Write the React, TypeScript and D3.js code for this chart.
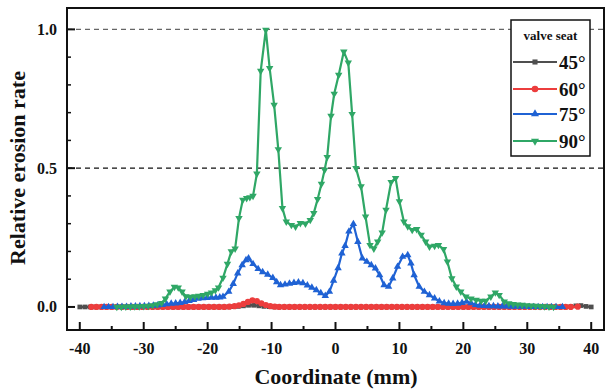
import React from "react";
import * as d3 from "d3";

// ---------- data ----------
const xTicks = [-40, -30, -20, -10, 0, 10, 20, 30, 40];
const yTicks = [0, 0.5, 1.0];
const legendTitle = "valve seat";
const seriesNames = ["45°", "60°", "75°", "90°"];

const x45 = [-40, -39.2, -38.4, -37.6, -36.8, -36, -35.2, -34.4, -33.6, -32.8, -32, -31.2, -30.4, -29.6, -28.8, -28, -27.2, -26.4, -25.6, -24.8, -24, -23.2, -22.4, -21.6, -20.8, -20, -19.2, -18.4, -17.6, -16.8, -16, -15.2, -14.4, -13.6, -12.8, -12, -11.2, -10.4, -9.6, -8.8, -8, -7.2, -6.4, -5.6, -4.8, -4, -3.2, -2.4, -1.6, -0.8, 0, 0.8, 1.6, 2.4, 3.2, 4, 4.8, 5.6, 6.4, 7.2, 8, 8.8, 9.6, 10.4, 11.2, 12, 12.8, 13.6, 14.4, 15.2, 16, 16.8, 17.6, 18.4, 19.2, 20, 20.8, 21.6, 22.4, 23.2, 24, 24.8, 25.6, 26.4, 27.2, 28, 28.8, 29.6, 30.4, 31.2, 32, 32.8, 33.6, 34.4, 35.2, 36, 36.8, 37.6, 38.4, 39.2, 40];
const y45 = [0, 0, 0, 0, 0, 0, 0, 0, 0, 0, 0, 0, 0, 0, 0, 0, 0, 0, 0, 0, 0, 0, 0, 0, 0, 0, 0, 0, 0, 0, 0.001, 0.002, 0.004, 0.006, 0.006, 0.004, 0.002, 0.001, 0, 0, 0, 0, 0, 0, 0, 0, 0, 0, 0, 0, 0, 0, 0, 0, 0, 0, 0, 0, 0, 0, 0, 0, 0, 0, 0, 0, 0, 0, 0, 0, 0, 0, 0, 0, 0, 0, 0, 0, 0, 0, 0, 0, 0, 0, 0, 0, 0, 0, 0, 0, 0, 0, 0, 0, 0, 0, 0.001, 0.004, 0.005, 0.002, 0];

const x60 = [-38.2, -37.4, -36.6, -35.8, -35, -34.2, -33.4, -32.6, -31.8, -31, -30.2, -29.4, -28.6, -27.8, -27, -26.2, -25.4, -24.6, -23.8, -23, -22.2, -21.4, -20.6, -19.8, -19, -18.2, -17.4, -16.6, -15.8, -15.1, -14.4, -13.7, -13, -12.3, -11.6, -10.9, -10.2, -9.5, -8.8, -8, -7.2, -6.4, -5.6, -4.8, -4, -3.2, -2.4, -1.6, -0.8, 0, 0.8, 1.6, 2.4, 3.2, 4, 4.8, 5.6, 6.4, 7.2, 8, 8.8, 9.6, 10.4, 11.2, 12, 12.8, 13.6, 14.4, 15.2, 16, 16.8, 17.6, 18.4, 19.2, 20, 20.8, 21.6, 22.4, 23.2, 24, 24.8, 25.6, 26.4, 27.2, 28, 28.8, 29.6, 30.4, 31.2, 32, 32.8, 33.6, 34.4, 35.2, 36, 36.8, 37.9];
const y60 = [0, 0, 0, 0, 0, 0, 0, 0, 0, 0, 0, 0, 0, 0, 0, 0, 0, 0, 0, 0, 0, 0, 0, 0, 0, 0, 0, 0.001, 0.003, 0.006, 0.011, 0.018, 0.024, 0.021, 0.013, 0.007, 0.003, 0.001, 0, 0, 0, 0, 0, 0, 0, 0, 0, 0, 0, 0, 0, 0, 0, 0, 0, 0, 0, 0, 0, 0, 0, 0, 0, 0, 0, 0, 0, 0, 0, 0, 0, 0, 0, 0, 0, 0, 0, 0, 0, 0, 0, 0, 0, 0, 0, 0, 0, 0, 0, 0, 0, 0, 0, 0, 0, 0, 0.001, 0.002, 0.003];

const x75 = [-36.2, -35.5, -34.8, -34.1, -33.4, -32.7, -32, -31.3, -30.6, -29.9, -29.2, -28.5, -27.8, -27.1, -26.4, -25.7, -25, -24.3, -23.6, -22.9, -22.2, -21.5, -20.8, -20.1, -19.4, -18.7, -18.1, -17.6, -16.7, -16, -15.3, -14.6, -14, -13.6, -12.9, -12.1, -11.4, -10.6, -9.8, -9.2, -8.6, -7.9, -7.2, -6.5, -5.8, -5.1, -4.4, -3.7, -3, -2.3, -1.6, -0.95, -0.3, 0.4, 1, 1.5, 2.1, 2.8, 3.5, 4.2, 4.9, 5.6, 6.25, 6.9, 7.6, 8.3, 8.95, 9.7, 10.5, 11.3, 11.8, 12.3, 13.1, 13.9, 14.7, 15.5, 16.25, 17, 17.7, 18.4, 19.1, 19.8, 20.5, 21.2, 21.9, 22.6, 23.3, 24, 24.7, 25.4, 26.1, 26.8, 27.5, 28.2, 28.9, 29.6, 30.3, 31, 31.7, 32.4, 33.1, 33.8, 34.5, 35.5];
const y75 = [0, 0, 0, 0.001, 0.001, 0.001, 0.002, 0.002, 0.003, 0.003, 0.004, 0.005, 0.006, 0.008, 0.01, 0.012, 0.013, 0.015, 0.018, 0.022, 0.026, 0.03, 0.032, 0.033, 0.034, 0.034, 0.035, 0.037, 0.055, 0.083, 0.121, 0.151, 0.169, 0.175, 0.155, 0.137, 0.126, 0.117, 0.105, 0.09, 0.079, 0.081, 0.084, 0.087, 0.089, 0.086, 0.078, 0.07, 0.061, 0.05, 0.04, 0.055, 0.095, 0.14, 0.193, 0.22, 0.272, 0.299, 0.235, 0.175, 0.163, 0.151, 0.139, 0.115, 0.079, 0.073, 0.103, 0.145, 0.181, 0.187, 0.157, 0.115, 0.073, 0.055, 0.043, 0.031, 0.02, 0.014, 0.012, 0.011, 0.012, 0.015, 0.019, 0.014, 0.008, 0.005, 0.004, 0.003, 0.003, 0.002, 0.002, 0.002, 0.001, 0.001, 0.001, 0.001, 0, 0, 0, 0, 0, 0, 0, 0];

const x90 = [-34.2, -33.5, -32.8, -32.1, -31.4, -30.7, -30, -29.3, -28.6, -27.9, -27.2, -26.6, -25.9, -25.2, -24.6, -24, -23.4, -22.7, -22, -21.4, -20.7, -20, -19.4, -18.8, -18.3, -17.6, -16.9, -16.3, -15.7, -15.1, -14.5, -13.9, -13.4, -12.9, -12.3, -11.7, -10.9, -10.3, -9.6, -8.95, -8.3, -7.7, -6.9, -6.25, -5.5, -4.7, -3.95, -3.4, -2.8, -2.2, -1.7, -1.3, -0.7, -0.2, 0.5, 1.3, 2, 2.6, 3.2, 4, 4.7, 5.4, 6, 6.6, 7.3, 7.9, 8.7, 9.4, 10, 10.7, 11.3, 12, 12.7, 13.4, 14.1, 14.7, 15.5, 16.1, 16.9, 17.5, 18.2, 18.9, 19.6, 20.4, 21.2, 22, 22.8, 23.5, 24.3, 25, 25.6, 26.4, 27.1, 27.8, 28.5, 29.2, 29.9, 30.6, 31.3, 32, 32.7, 33.4, 34.1];
const y90 = [0, 0, 0.001, 0.001, 0.002, 0.002, 0.003, 0.004, 0.006, 0.009, 0.014, 0.03, 0.055, 0.072, 0.07, 0.055, 0.038, 0.036, 0.038, 0.04, 0.043, 0.047, 0.052, 0.06, 0.07, 0.105, 0.155, 0.2, 0.21, 0.32, 0.386, 0.392, 0.395, 0.4, 0.48, 0.85, 0.998, 0.86, 0.728, 0.568, 0.356, 0.307, 0.295, 0.289, 0.302, 0.3, 0.313, 0.338, 0.388, 0.443, 0.494, 0.54, 0.688, 0.768, 0.836, 0.92, 0.88, 0.695, 0.5, 0.434, 0.325, 0.223, 0.21, 0.235, 0.268, 0.35, 0.45, 0.464, 0.38, 0.307, 0.29, 0.277, 0.28, 0.26, 0.235, 0.217, 0.22, 0.223, 0.208, 0.163, 0.103, 0.073, 0.055, 0.037, 0.03, 0.025, 0.022, 0.022, 0.037, 0.052, 0.043, 0.019, 0.013, 0.01, 0.008, 0.007, 0.006, 0.005, 0.004, 0.003, 0.002, 0.001, 0];

const colors = ["#4f4f4f", "#ec3d3d", "#1f62d4", "#2fa766"];

// ---------- layout ----------
const W = 611, H = 391;
const left = 67, right = 604, top = 8, bottom = 330;
const FONT = "'Liberation Serif', 'Times New Roman', serif";

export default function App() {
  const x = d3.scaleLinear().domain([-42, 42]).range([left, right]);
  const y = d3.scaleLinear().domain([-0.083, 1.077]).range([bottom, top]);
  const line = d3.line<[number, number]>().x((d) => x(d[0])).y((d) => y(d[1]));

  const series = [
    { xs: x45, ys: y45, sym: d3.symbolSquare, size: 22, rot: 0, lw: 2.4 },
    { xs: x60, ys: y60, sym: d3.symbolCircle, size: 30, rot: 0, lw: 2.6 },
    { xs: x75, ys: y75, sym: d3.symbolTriangle, size: 24, rot: 0, lw: 2.2 },
    { xs: x90, ys: y90, sym: d3.symbolTriangle, size: 24, rot: 180, lw: 2.2 },
  ];

  const minorX = d3.range(-40, 41, 5).filter((v) => v % 10 !== 0);
  const minorY = d3.range(-0.0, 1.01, 0.1).map((v) => +v.toFixed(2)).filter((v) => !yTicks.includes(v));

  const legX = 511, legY = 20, legW = 79, legH = 136;
  const entryY = [62, 89, 114, 141];

  return (
    <svg width={W} height={H} style={{ position: "absolute", left: 0, top: 0, background: "#fff" }}>
      <rect x={0} y={0} width={W} height={H} fill="#fff" />
      {/* dashed reference lines */}
      <line x1={left} x2={right} y1={y(1)} y2={y(1)} stroke="#666" strokeWidth={1.3} strokeDasharray="5,4" />
      <line x1={left} x2={right} y1={y(0.5)} y2={y(0.5)} stroke="#111" strokeWidth={1.3} strokeDasharray="5,4" />

      {/* series */}
      {series.map((s, i) => {
        const pts: [number, number][] = s.xs.map((v, k) => [v, s.ys[k]]);
        const sp = d3.symbol().type(s.sym).size(s.size)();
        return (
          <g key={i}>
            <path d={line(pts) || ""} fill="none" stroke={colors[i]} strokeWidth={s.lw} strokeLinejoin="round" />
            {pts.map((p, k) => (
              <path key={k} d={sp || ""} fill={colors[i]} transform={`translate(${x(p[0])},${y(p[1])}) rotate(${s.rot})`} />
            ))}
          </g>
        );
      })}

      {/* frame */}
      <rect x={left} y={top} width={right - left} height={bottom - top} fill="none" stroke="#111" strokeWidth={2} />

      {/* x ticks */}
      {xTicks.map((t) => (
        <g key={t}>
          <line x1={x(t)} x2={x(t)} y1={bottom} y2={bottom - 8} stroke="#111" strokeWidth={2} />
          <text x={x(t)} y={354} textAnchor="middle" fontFamily={FONT} fontWeight="bold" fontSize={16} fill="#111">
            {t}
          </text>
        </g>
      ))}
      {minorX.map((t) => (
        <line key={t} x1={x(t)} x2={x(t)} y1={bottom} y2={bottom - 4} stroke="#111" strokeWidth={2} />
      ))}
      {/* y ticks */}
      {yTicks.map((t) => (
        <g key={t}>
          <line x1={left} x2={left + 8} y1={y(t)} y2={y(t)} stroke="#111" strokeWidth={2} />
          <text x={57} y={y(t) + 5.5} textAnchor="end" fontFamily={FONT} fontWeight="bold" fontSize={16} fill="#111">
            {t.toFixed(1)}
          </text>
        </g>
      ))}
      {minorY.map((t) => (
        <line key={t} x1={left} x2={left + 4} y1={y(t)} y2={y(t)} stroke="#111" strokeWidth={1.5} />
      ))}

      {/* axis titles */}
      <text x={336} y={384} textAnchor="middle" fontFamily={FONT} fontWeight="bold" fontSize={22} fill="#111">
        Coordinate (mm)
      </text>
      <text transform={`translate(25,168) rotate(-90)`} textAnchor="middle" fontFamily={FONT} fontWeight="bold" fontSize={22} fill="#111">
        Relative erosion rate
      </text>

      {/* legend */}
      <rect x={legX} y={legY} width={legW} height={legH} fill="#fff" stroke="#111" strokeWidth={1.5} />
      <text x={legX + legW / 2} y={legY + 20} textAnchor="middle" fontFamily={FONT} fontWeight="bold" fontSize={13} fill="#111">
        {legendTitle}
      </text>
      {seriesNames.map((n, i) => {
        const s = series[i];
        const sp = d3.symbol().type(s.sym).size(s.size + 4)();
        return (
          <g key={n}>
            <line x1={513} x2={557} y1={entryY[i]} y2={entryY[i]} stroke={colors[i]} strokeWidth={2.2} />
            <path d={sp || ""} fill={colors[i]} transform={`translate(535,${entryY[i]}) rotate(${s.rot})`} />
            <text x={559} y={entryY[i] + 6.5} fontFamily={FONT} fontWeight="bold" fontSize={19} fill="#111">
              {n}
            </text>
          </g>
        );
      })}
    </svg>
  );
}
